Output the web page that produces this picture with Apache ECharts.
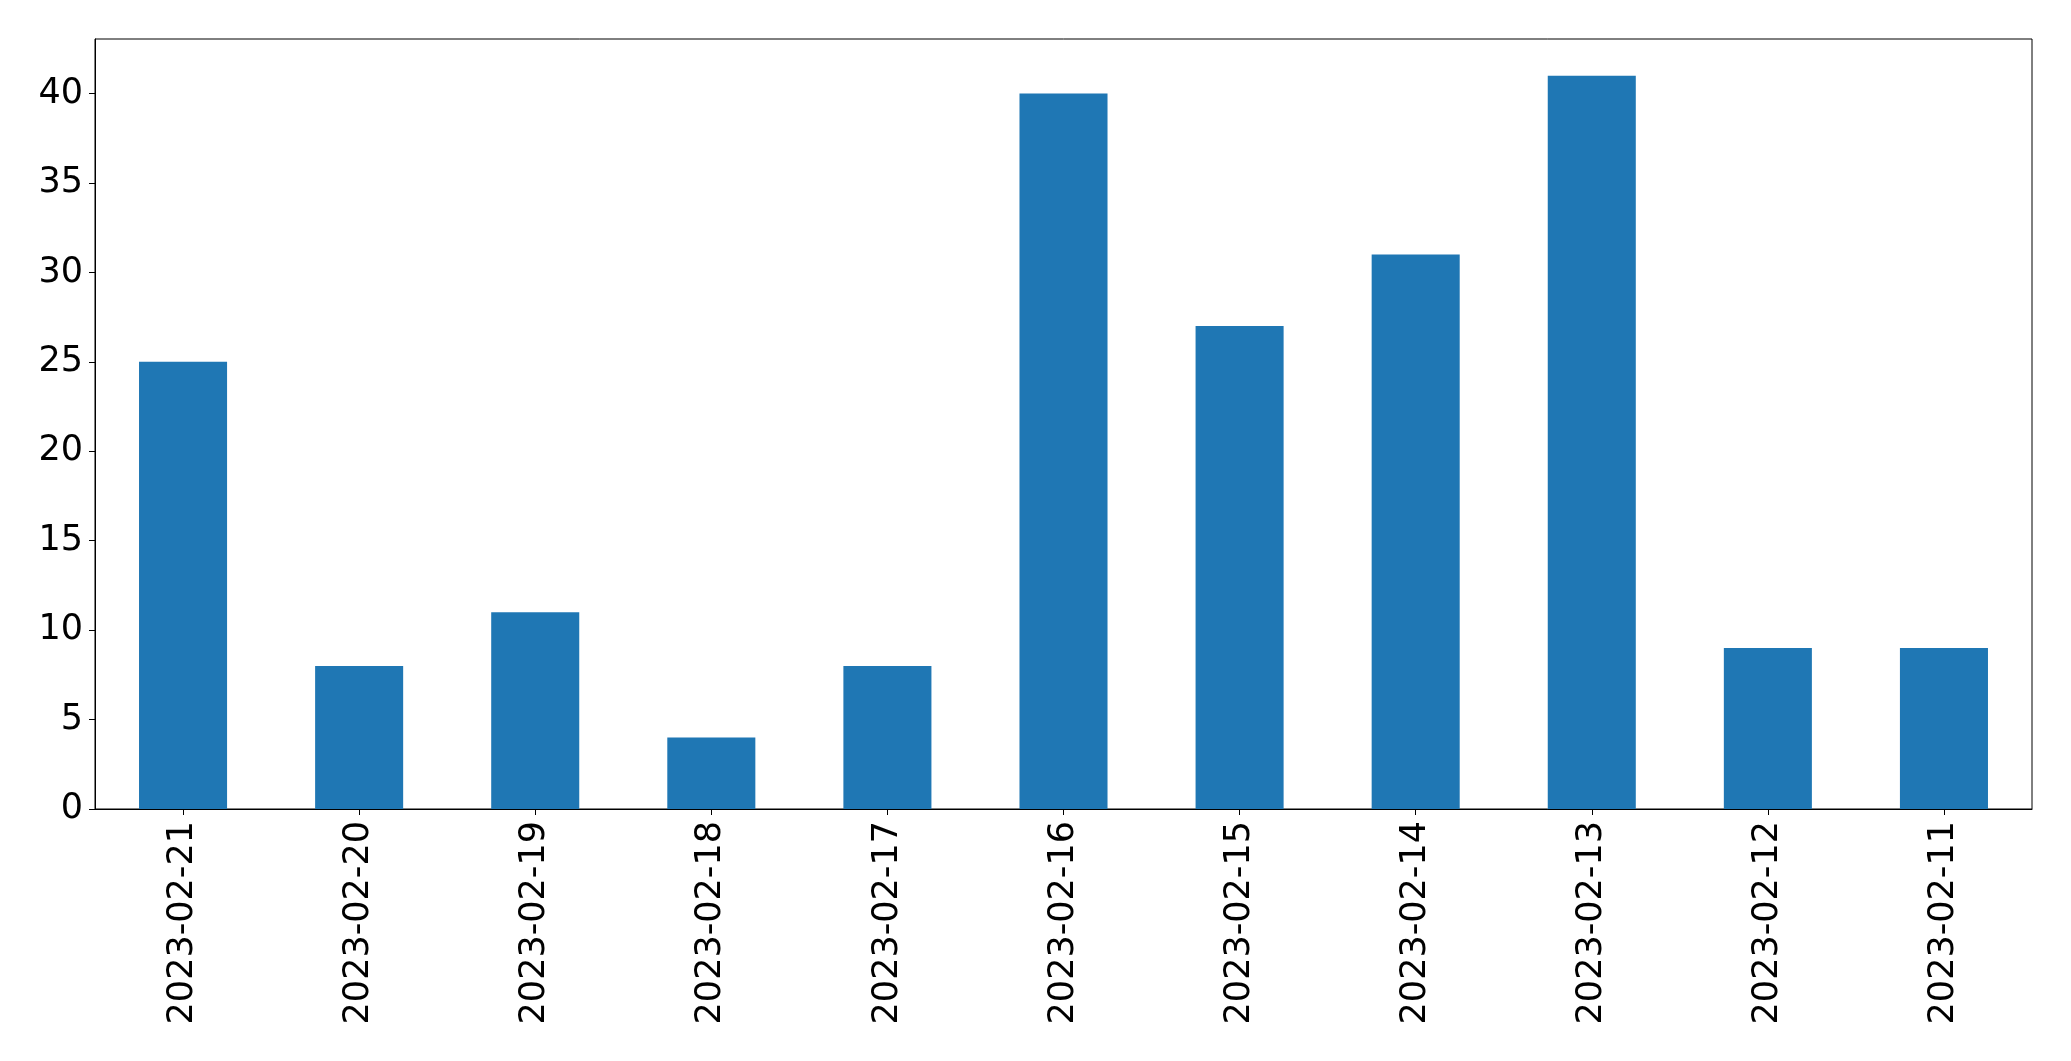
<!DOCTYPE html>
<html>
<head>
<meta charset="utf-8">
<script src="https://cdn.jsdelivr.net/npm/echarts@6/dist/echarts.min.js"></script>
<style>html,body{margin:0;padding:0;background:#fff}#c{width:2071px;height:1061px}</style>
</head>
<body>
<div id="c"></div>
<script>
const categories = ['2023-02-21','2023-02-20','2023-02-19','2023-02-18','2023-02-17','2023-02-16','2023-02-15','2023-02-14','2023-02-13','2023-02-12','2023-02-11'];
const values = [25, 8, 11, 4, 8, 40, 27, 31, 41, 9, 9];
const yTicks = [0, 5, 10, 15, 20, 25, 30, 35, 40];

const chart = echarts.init(document.getElementById('c'), null, {renderer: 'canvas'});
chart.setOption({
  animation: false,
  backgroundColor: '#fff',
  grid: {left: 95, top: 39, width: 1937, height: 770, show: true, borderColor: '#000', borderWidth: 1, backgroundColor: 'transparent'},
  xAxis: {
    type: 'category',
    data: categories,
    boundaryGap: true,
    axisLine: {show: true, lineStyle: {color: '#000', width: 1}},
    axisTick: {show: true, alignWithLabel: true, length: 6, lineStyle: {color: '#000'}},
    axisLabel: {rotate: 90, fontFamily: 'DejaVu Sans', fontSize: 35, color: '#000', margin: 12, interval: 0}
  },
  yAxis: {
    type: 'value',
    min: 0,
    max: 43.05,
    interval: 5,
    splitLine: {show: false},
    axisLine: {show: true, lineStyle: {color: '#000', width: 1}},
    axisTick: {show: true, length: 6, lineStyle: {color: '#000'}, customValues: yTicks},
    axisLabel: {fontFamily: 'DejaVu Sans', fontSize: 35, color: '#000', margin: 12, customValues: yTicks}
  },
  series: [{
    type: 'bar',
    data: values,
    barWidth: '50%',
    itemStyle: {color: '#1f77b4'}
  }]
});
</script>
</body>
</html>
